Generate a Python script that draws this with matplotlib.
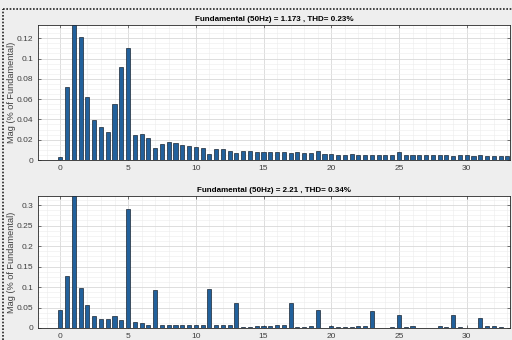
import matplotlib.pyplot as plt
import numpy as np
from matplotlib.lines import Line2D

# harmonic order, half-step spacing from 0 to 33
orders = np.arange(0, 33.5, 0.5)

# magnitudes (% of fundamental)
mag_top = [0.003, 0.072, 0.133, 0.121, 0.062, 0.039, 0.033, 0.028, 0.055, 0.092,
           0.110, 0.025, 0.026, 0.022, 0.012, 0.016, 0.018, 0.0167, 0.0143, 0.0137,
           0.0125, 0.0115, 0.006, 0.0113, 0.011, 0.0093, 0.0067, 0.009, 0.009, 0.0083,
           0.0083, 0.008, 0.0077, 0.0077, 0.007, 0.0077, 0.0073, 0.007, 0.0085, 0.0063,
           0.0063, 0.0047, 0.0053, 0.006, 0.0053, 0.005, 0.005, 0.005, 0.005, 0.0053,
           0.0075, 0.0053, 0.005, 0.005, 0.005, 0.005, 0.005, 0.005, 0.0043, 0.0047,
           0.0047, 0.0043, 0.0047, 0.0043, 0.0043, 0.0043, 0.0043]

mag_bot = [0.044, 0.126, 0.322, 0.098, 0.055, 0.029, 0.023, 0.021, 0.029, 0.0195,
           0.290, 0.0154, 0.0114, 0.0081, 0.092, 0.008, 0.008, 0.0065, 0.0065, 0.008,
           0.0075, 0.0065, 0.094, 0.008, 0.0065, 0.008, 0.0616, 0.0024, 0.0016, 0.005,
           0.0057, 0.005, 0.0065, 0.0065, 0.060, 0.003, 0.003, 0.005, 0.0438, 0.001,
           0.005, 0.0024, 0.0024, 0.0024, 0.0057, 0.005, 0.042, 0.001, 0.001, 0.0016,
           0.031, 0.0024, 0.0057, 0.001, 0.001, 0.001, 0.004, 0.003, 0.031, 0.003,
           0.001, 0.001, 0.024, 0.005, 0.0057, 0.0016, 0.001]

titles = ['Fundamental (50Hz) = 1.173 , THD= 0.23%',
          'Fundamental (50Hz) = 2.21 , THD= 0.34%']
ylims = [0.133, 0.322]
yticks = [np.arange(0, 0.121, 0.02), np.arange(0, 0.301, 0.05)]
yticklabels = [['0', '0.02', '0.04', '0.06', '0.08', '0.1', '0.12'],
               ['0', '0.05', '0.1', '0.15', '0.2', '0.25', '0.3']]

plt.rcParams['font.family'] = ['Liberation Sans', 'DejaVu Sans']

fig = plt.figure(figsize=(5.12, 3.4), dpi=100, facecolor='#eeeeee')
ax1 = fig.add_axes([0.0742, 0.5294, 0.922, 0.397])
ax2 = fig.add_axes([0.0742, 0.0353, 0.922, 0.388])

for ax, mag, title, ylim, yt, ytl in zip([ax1, ax2], [mag_top, mag_bot], titles,
                                         ylims, yticks, yticklabels):
    ax.bar(orders, mag, width=0.3, color='#22619c', edgecolor='#1b2633', linewidth=0.5,
           zorder=3)
    ax.set_xlim(-1.65, 33.2)
    ax.set_ylim(0, ylim)
    ax.set_xticks(range(0, 31, 5))
    ax.set_xticks(np.arange(-1, 34, 1), minor=True)
    ax.set_yticks(yt)
    ax.set_yticklabels(ytl)
    ax.set_yticks(np.arange(0, ylim, yt[1] / 4), minor=True)
    ax.grid(True, which='major', color='#d8d8d8', linewidth=0.6, zorder=0)
    ax.grid(True, which='minor', color='#ececec', linewidth=0.4, zorder=0)
    ax.tick_params(which='both', direction='in', top=True, right=True,
                   labelsize=6, labelcolor='#404040', color='#404040', length=2.5, width=0.5)
    ax.tick_params(which='minor', length=0)
    for s in ax.spines.values():
        s.set_color('#262626')
        s.set_linewidth(0.6)
    ax.set_facecolor('white')
    ax.set_title(title, fontsize=5.8, fontweight='bold', pad=3)
    ax.set_ylabel('Mag (% of Fundamental)', fontsize=6.6, color='#404040')
    ax.yaxis.set_label_coords(-0.046, 0.5)

# dotted selection border of the screenshot
fig.add_artist(Line2D([0.006, 1.0], [0.975, 0.975], transform=fig.transFigure,
                      color='#222222', linestyle=(0, (1, 1)), linewidth=1.2))
fig.add_artist(Line2D([0.006, 0.006], [0.0, 0.975], transform=fig.transFigure,
                      color='#222222', linestyle=(0, (1, 1)), linewidth=1.2))

fig.savefig('out.png', dpi=100, facecolor=fig.get_facecolor())
